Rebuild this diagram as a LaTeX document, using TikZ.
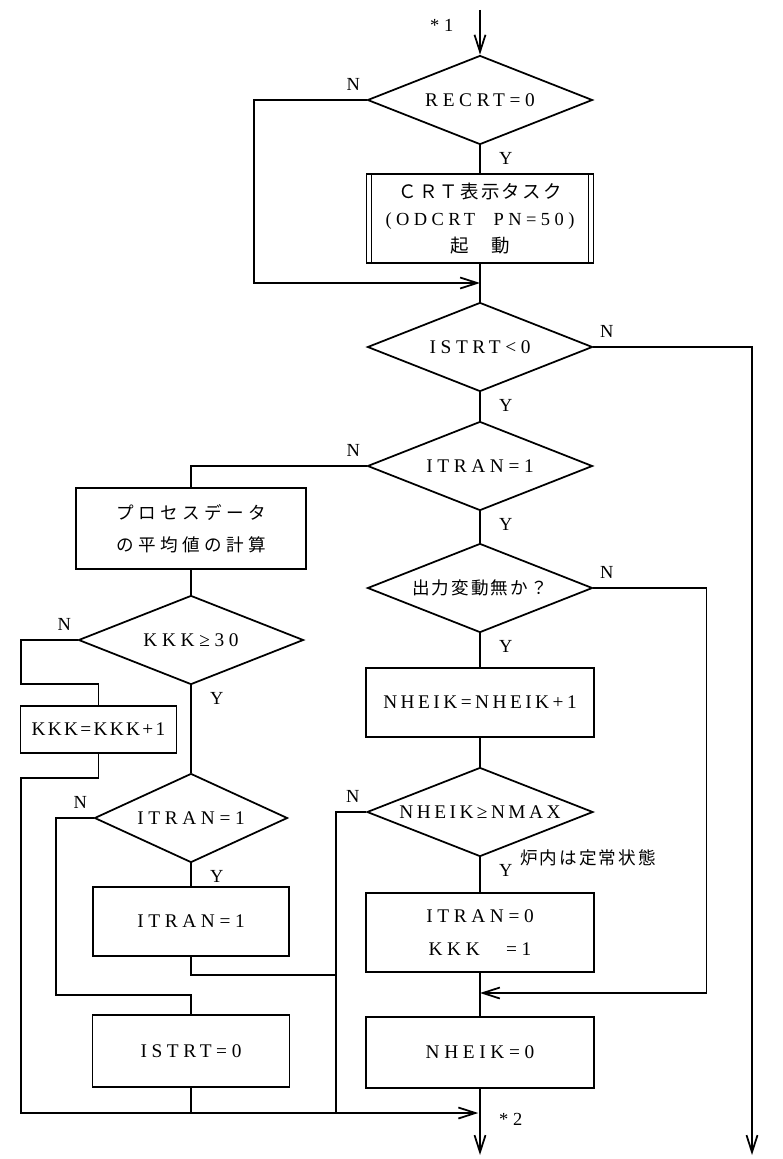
\documentclass[tikz,border=0pt]{standalone}
\usepackage{fontspec}
\setmainfont{Liberation Serif}
\newfontfamily\latfont[LetterSpace=24]{Liberation Serif}
\newfontfamily\jpfont[LetterSpace=12]{Noto Sans CJK JP}
\usepackage{tikz}
\usetikzlibrary{shapes.geometric, arrows.meta, positioning}

\begin{document}
\begin{tikzpicture}[node distance=2.4cm]
    \tikzstyle{decision} = [diamond, draw, line width=1pt, shape aspect=2.5, inner sep=0pt, minimum width=4.5cm, minimum height=1.78cm, font=\fontsize{11}{13}\latfont]
    \tikzstyle{process} = [rectangle, draw, line width=1pt, minimum width=4.57cm, minimum height=1.4cm, align=center, font=\fontsize{11}{15.5}\latfont]
    \tikzstyle{subtask} = [process, path picture={\draw[line width=1pt] ([xshift=0.1cm]path picture bounding box.north west) -- ([xshift=0.1cm]path picture bounding box.south west) ([xshift=-0.1cm]path picture bounding box.north east) -- ([xshift=-0.1cm]path picture bounding box.south east);}]
    \tikzstyle{line} = [draw, line width=1pt]
    \tikzstyle{arrow} = [line, -{Straight Barb[length=3.4mm, width=2.2mm]}]
    \tikzstyle{yes} = [pos=0, anchor=north west, xshift=0.25cm, font=\fontsize{10.5}{12}\selectfont]
    \tikzstyle{no} = [pos=0, yshift=1.5pt, font=\fontsize{10.5}{12}\selectfont]

    \useasboundingbox (0,0) rectangle (15.64,-23.18);

    \node [decision] (recrt) at (9.6,-2) {RECRT=0};
    \node [subtask, below of=recrt, node distance=2.37cm, minimum width=4.54cm, minimum height=1.78cm, font=\fontsize{10.5}{15.5}\latfont] (crt) {{\jpfont ＣＲＴ表示タスク}\\(ODCRT\quad PN=50)\\{\jpfont 起　動}};
    \node [decision, below of=crt, node distance=2.57cm] (istrt) {ISTRT<0};
    \node [decision, below of=istrt, node distance=2.38cm] (itran) {ITRAN=1};
    \node [decision, below of=itran, node distance=2.44cm, font=\fontsize{10}{13}\latfont] (chk) {{\jpfont 出力変動無か？}};
    \node [process, below of=chk, node distance=2.29cm, minimum height=1.38cm, font=\fontsize{11}{13}\latfont\addfontfeature{LetterSpace=18}] (inc) {NHEIK=NHEIK+1};
    \node [decision, below of=inc, node distance=2.19cm, minimum width=4.52cm, font=\fontsize{11}{13}\latfont\addfontfeature{LetterSpace=18}] (nmax) {NHEIK≥NMAX};
    \node [process, below of=nmax, node distance=2.41cm, minimum height=1.58cm] (reset) {ITRAN=0\\[3pt]\rlap{KKK}\phantom{ITRAN}=1};
    \node [process, below of=reset, node distance=2.40cm, minimum height=1.42cm] (clear) {NHEIK=0};
    \node [right=0.68cm of nmax.south, anchor=west, font=\fontsize{10}{12}\jpfont] (note) {炉内は定常状態};

    \node [process, below of=itran, node distance=1.25cm, xshift=-5.78cm, minimum width=4.6cm, minimum height=1.62cm, font=\fontsize{10}{15.5}\latfont] (calc) {{\jpfont\addfontfeature{LetterSpace=25}プロセスデータ}\\[3pt]{\jpfont\addfontfeature{LetterSpace=25}の平均値の計算}};
    \node [decision, below of=calc, node distance=2.23cm] (kkk) {KKK≥30};
    \node [process, below of=kkk, node distance=1.79cm, xshift=-1.85cm, minimum width=3.12cm, minimum height=0.94cm, font=\fontsize{11}{13}\latfont\addfontfeature{LetterSpace=12}] (kkkinc) {KKK=KKK+1};
    \node [decision, below of=kkk, node distance=3.56cm, minimum width=3.86cm] (itranl) {ITRAN=1};
    \node [process, below of=itranl, node distance=2.07cm, minimum width=3.92cm, minimum height=1.38cm] (setl) {ITRAN=1};
    \node [process, below of=setl, node distance=2.59cm, minimum width=3.94cm, minimum height=1.44cm] (zero) {ISTRT=0};

    \coordinate (in) at (9.6,-0.2);
    \coordinate (m1) at (9.6,-5.66);
    \coordinate (m2) at (9.6,-19.86);
    \coordinate (m3) at (9.6,-22.26);
    \coordinate (out1) at (15.04,-23.1);
    \coordinate (out2) at (9.6,-23.1);

    \path [arrow] (in) -- node[pos=0.35, anchor=east, xshift=-0.4cm, font=\fontsize{10.5}{12}\selectfont]{* 1} (recrt);
    \path [line] (recrt) -- node[yes]{Y} (crt);
    \path [arrow] (recrt.west) -- node[no, anchor=south east]{N} ++(-2.26,0) |- (m1);
    \path [line] (crt) -- (istrt);
    \path [line] (istrt) -- node[yes]{Y} (itran);
    \path [arrow] (istrt.east) -- node[no, anchor=south west]{N} ++(1,0) -| (out1);
    \path [line] (itran) -- node[yes]{Y} (chk);
    \path [line] (itran.west) -- node[no, anchor=south east]{N} ++(-1,0) -| (calc.north);
    \path [line] (chk) -- node[yes]{Y} (inc);
    \path [arrow] (chk.east) -- node[no, anchor=south west]{N} ++(2.26,0) |- (m2);
    \path [line] (inc) -- (nmax);
    \path [line] (nmax) -- node[yes]{Y} (reset);
    \path [line] (nmax.west) -- node[no, anchor=south east]{N} ++(-0.6,0) -- ++(0,-6.02);
    \path [line] (reset) -- (clear);
    \path [arrow] (clear) -- node[pos=0.46, anchor=west, xshift=0.25cm, font=\fontsize{10.5}{12}\selectfont]{* 2} (out2);

    \path [line] (calc) -- (kkk);
    \path [line] (kkk) -- node[yes]{Y} (itranl);
    \path [line] (kkk.west) -- node[no, anchor=south east]{N} ++(-1.13,0) -- ++(0,-0.88) -| (kkkinc.north);
    \path [arrow, shorten >=1pt] (kkkinc.south) -- ++(0,-0.48) -- ++(-1.55,0) |- (m3);
    \path [line] (itranl) -- node[yes]{Y} (setl);
    \path [line] (itranl.west) -- node[no, anchor=south east]{N} ++(-0.76,0) -- ++(0,-3.54) -| (zero.north);
    \path [line] (setl.south) -- ++(0,-0.36) -- ++(2.92,0);
    \path [line] (zero.south) -- ++(0,-0.52);
\end{tikzpicture}
\end{document}
